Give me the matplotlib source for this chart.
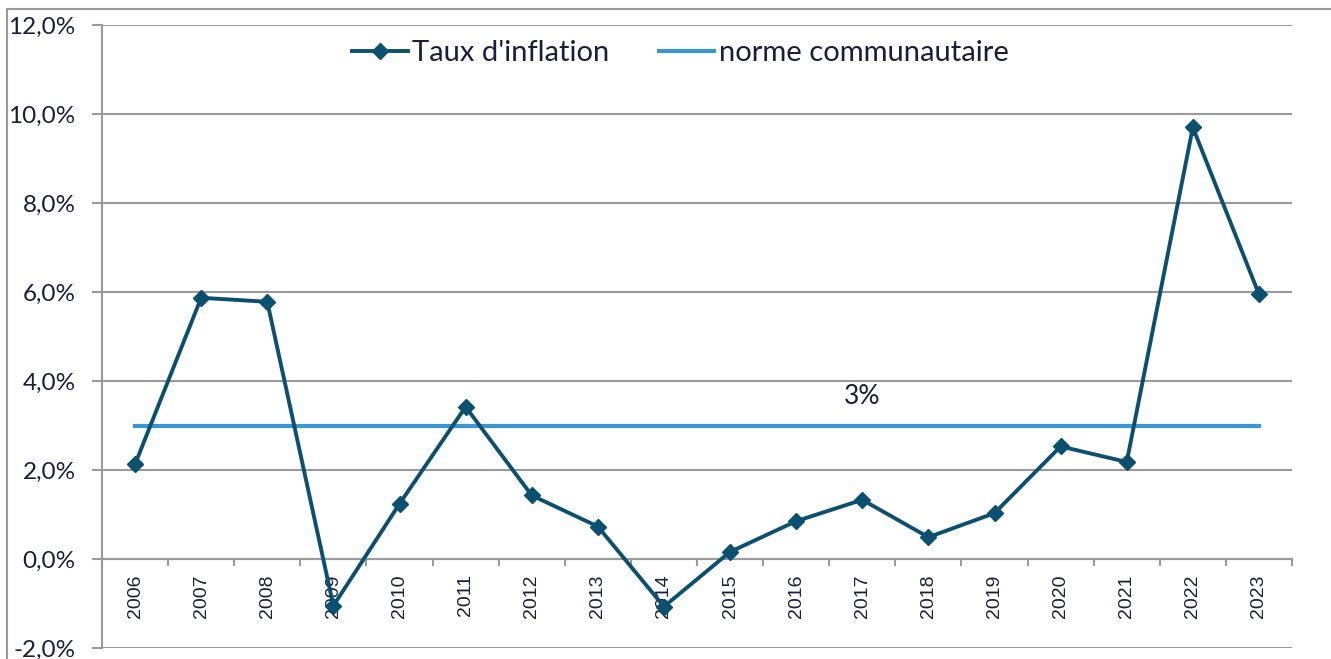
import numpy as np
import matplotlib.pyplot as plt
from matplotlib.lines import Line2D
from matplotlib.ticker import FuncFormatter

# data
annees = ['2006', '2007', '2008', '2009', '2010', '2011', '2012', '2013', '2014',
          '2015', '2016', '2017', '2018', '2019', '2020', '2021', '2022', '2023']
inflation = [2.13, 5.87, 5.78, -1.05, 1.24, 3.42, 1.43, 0.73, -1.07,
             0.16, 0.85, 1.33, 0.49, 1.03, 2.53, 2.18, 9.70, 5.95]
norme = [3.0] * len(annees)
y_ticks = [-2, 0, 2, 4, 6, 8, 10, 12]

C_INFL = '#0a5070'
C_NORME = '#3a97d4'
C_TEXT = '#1c1c3c'
C_GRID = '#9a9a9a'

plt.rcParams['font.family'] = ['Lato', 'DejaVu Sans']

fig = plt.figure(figsize=(13.31, 6.59), dpi=100)
ax = fig.add_axes([102/1331, 1-648/659, 1190/1331, 623/659])

x = np.arange(len(annees))
ax.plot(x, inflation, color=C_INFL, lw=2.8, marker='D', ms=8,
        label="Taux d'inflation", zorder=4)
ax.plot(x, norme, color=C_NORME, lw=3.0, label='norme communautaire', zorder=3)
ax.text(11, 3.65, '3%', ha='center', va='center', fontsize=19, color=C_TEXT)

ax.set_xlim(-0.5, len(annees) - 0.5)
ax.set_ylim(-2, 12)
ax.set_yticks(y_ticks)
ax.yaxis.set_major_formatter(FuncFormatter(lambda v, p: f'{v:.1f}%'.replace('.', ',')))
ax.tick_params(axis='y', length=7, width=1.5, color=C_GRID, labelsize=17.5,
               labelcolor=C_TEXT, pad=12)
ax.grid(axis='y', color=C_GRID, lw=1.5, zorder=0)

# x axis on the zero line, ticks between categories
ax.spines['bottom'].set_position(('data', 0))
ax.spines['bottom'].set_color(C_GRID)
ax.spines['bottom'].set_linewidth(1.5)
ax.spines['left'].set_color(C_GRID)
ax.spines['left'].set_linewidth(1.5)
ax.spines['top'].set_visible(False)
ax.spines['right'].set_visible(False)
ax.set_xticks(x)
ax.set_xticklabels(annees, rotation=90, fontsize=14, color=C_TEXT,
                   family=['Liberation Sans', 'DejaVu Sans'])
ax.set_xticks(np.arange(len(annees) + 1) - 0.5, minor=True)
ax.tick_params(axis='x', which='major', length=0, pad=11)
ax.tick_params(axis='x', which='minor', length=5, width=1.5, color=C_GRID)

ax.legend(loc='center', bbox_to_anchor=(0.486, 0.955), ncol=2, frameon=False,
          fontsize=21, labelcolor=C_TEXT, handlelength=1.9, handletextpad=0.15,
          columnspacing=1.7)

# outer chart frame (top and left edges visible)
fig.add_artist(Line2D([7/1331, 7/1331, 1], [0, 1-9/659, 1-9/659],
                      transform=fig.transFigure, color=C_GRID, lw=1.5))

fig.savefig('out.png', dpi=100)
